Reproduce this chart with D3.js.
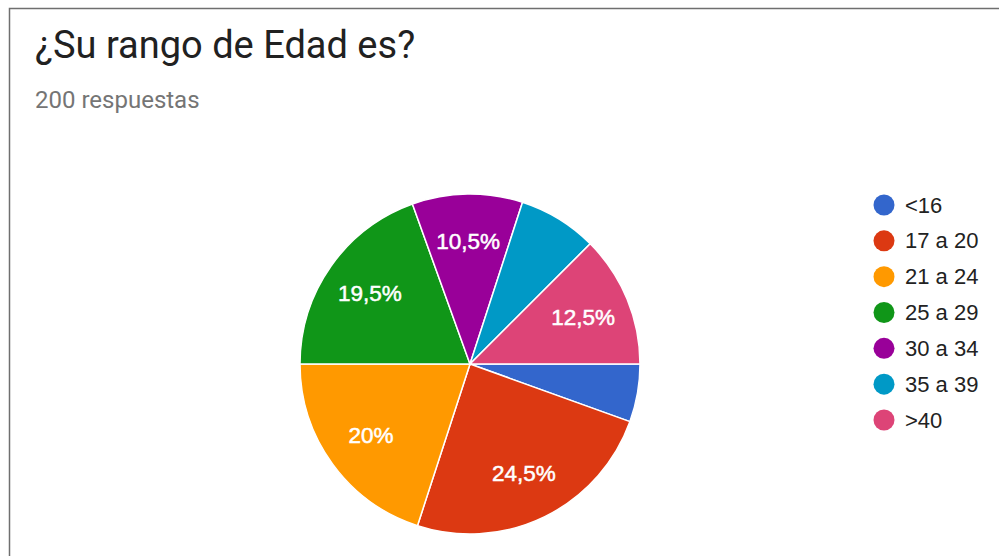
<!DOCTYPE html>
<html><head><meta charset="utf-8">
<script src="https://cdnjs.cloudflare.com/ajax/libs/d3/7.8.5/d3.min.js"></script>
<style>html,body{margin:0;padding:0;background:#fff;}svg{display:block;}</style>
</head><body>
<svg id="c" width="999" height="556"></svg>
<script>
const categories = ["<16", "17 a 20", "21 a 24", "25 a 29", "30 a 34", "35 a 39", ">40"];
const values = [5.5, 24.5, 20, 19.5, 10.5, 7.5, 12.5];
const sliceLabels = ["", "24,5%", "20%", "19,5%", "10,5%", "", "12,5%"];
const colors = ["#3366cc", "#dc3912", "#ff9900", "#109618", "#990099", "#0099c6", "#dd4477"];
const title = "¿Su rango de Edad es?";
const subtitle = "200 respuestas";

const svg = d3.select("#c");
svg.append("rect").attr("x", 9.5).attr("y", 8.5).attr("width", 1200).attr("height", 800)
  .attr("fill", "#fff").attr("stroke", "#6f6f6f").attr("stroke-width", 1.5);

svg.append("text").attr("x", 35).attr("y", 58).text(title)
  .attr("font-family", "Roboto").attr("font-size", 38).attr("fill", "#212121");
svg.append("text").attr("x", 35).attr("y", 108).text(subtitle)
  .attr("font-family", "Roboto").attr("font-size", 24).attr("fill", "#757575");

const cx = 470, cy = 364, r = 170;
const pie = d3.pie().sort(null).value(d => d)
  .startAngle(Math.PI / 2).endAngle(Math.PI / 2 + 2 * Math.PI);
const arcs = pie(values);
const arc = d3.arc().innerRadius(0).outerRadius(r);
const labelArc = d3.arc().innerRadius(r * 0.72).outerRadius(r * 0.72);
const g = svg.append("g").attr("transform", `translate(${cx},${cy})`);
g.selectAll("path").data(arcs).join("path")
  .attr("d", arc).attr("fill", (d, i) => colors[i])
  .attr("stroke", "#fff").attr("stroke-width", 1.5);
g.selectAll("text").data(arcs).join("text")
  .attr("transform", d => `translate(${labelArc.centroid(d)})`)
  .attr("text-anchor", "middle").attr("dominant-baseline", "central")
  .attr("font-family", "Liberation Sans, Arial").attr("font-size", 22.5)
  .attr("fill", "#fff").attr("stroke", "#fff").attr("stroke-width", 0.5)
  .text((d, i) => sliceLabels[i]);

const y = d3.scalePoint().domain(categories).range([205, 420]);
const leg = svg.append("g");
const items = leg.selectAll("g").data(categories).join("g")
  .attr("transform", d => `translate(0,${y(d)})`);
items.append("circle").attr("cx", 884).attr("cy", 0).attr("r", 10.5)
  .attr("fill", (d, i) => colors[i]);
items.append("text").attr("x", 905).attr("y", 0).attr("dominant-baseline", "central")
  .attr("font-family", "Liberation Sans, Arial").attr("font-size", 22)
  .attr("fill", "#222").text(d => d);
</script>
</body></html>
